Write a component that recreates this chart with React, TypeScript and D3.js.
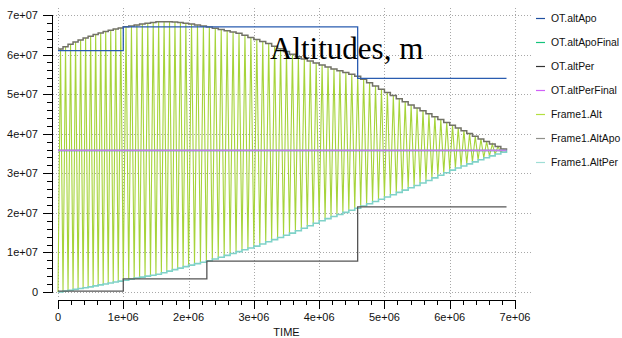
import { useEffect, useRef } from "react"
import * as d3 from "d3"

// axis ticks
const timeTicks = [0, 1e6, 2e6, 3e6, 4e6, 5e6, 6e6, 7e6]
const altTicks = [0, 1e7, 2e7, 3e7, 4e7, 5e7, 6e7, 7e7]

// Frame1.AltApo envelope
const apoTime = [0, 0.23e6, 0.38e6, 0.54e6, 0.75e6, 1.0e6, 1.36e6, 1.56e6, 1.76e6, 1.98e6, 2.17e6, 2.37e6, 2.59e6, 2.79e6, 2.99e6, 3.2e6, 3.7e6, 4.2e6, 4.6e6, 5.0e6, 5.5e6, 6.0e6, 6.5e6, 6.87e6]
const apoValue = [6.11e7, 6.29e7, 6.39e7, 6.49e7, 6.59e7, 6.69e7, 6.79e7, 6.83e7, 6.83e7, 6.79e7, 6.74e7, 6.68e7, 6.6e7, 6.53e7, 6.41e7, 6.3e7, 5.93e7, 5.65e7, 5.45e7, 5.08e7, 4.65e7, 4.25e7, 3.85e7, 3.58e7]

// Frame1.AltPer envelope
const perTime = [0, 0.46e6, 1.0e6, 1.5e6, 2.0e6, 2.3e6, 3.0e6, 3.55e6, 4.0e6, 4.6e6, 5.0e6, 5.5e6, 6.0e6, 6.5e6, 6.87e6]
const perValue = [0, 1.3e6, 3.0e6, 4.5e6, 6.8e6, 8.0e6, 1.16e7, 1.49e7, 1.8e7, 2.15e7, 2.4e7, 2.72e7, 3.08e7, 3.38e7, 3.58e7]

// orbits counted in each 1e6 s of TIME (last bin ends at 6.87e6)
const orbitsPerMillion = [13, 12, 11, 11, 11, 11, 10]
const endTime = 6.87e6

// OT targets (step series)
const otApoTime = [0, 1.0e6, 4.59e6, 6.87e6]
const otApoValue = [6.1e7, 6.7e7, 5.4e7, 5.4e7]
const otPerTime = [0, 1.0e6, 2.28e6, 4.59e6, 6.87e6]
const otPerValue = [2e5, 3.3e6, 7.8e6, 2.15e7, 2.15e7]
const finalTime = [0, 6.87e6]
const apoFinalValue = [3.5786e7, 3.5786e7]
const perFinalValue = [3.5786e7, 3.5786e7]

const legendNames = ["OT.altApo", "OT.altApoFinal", "OT.altPer", "OT.altPerFinal", "Frame1.Alt", "Frame1.AltApo", "Frame1.AltPer"]
const legendColors = ["#1f4fa0", "#14c47c", "#333333", "#d060f8", "#b4e040", "#90908a", "#9fded6"]

export default function App() {
  const svgRef = useRef<SVGSVGElement>(null)

  useEffect(() => {
    if (!svgRef.current) return
    document.body.style.margin = "0"
    const svg = d3.select(svgRef.current)
    svg.selectAll("*").remove()

    const x = d3.scaleLinear().domain([0, 7e6]).range([58, 515])
    const y = d3.scaleLinear().domain([0, 7e7]).range([292, 15])
    const apoAt = d3.scaleLinear<number>().domain(apoTime).range(apoValue)
    const perAt = d3.scaleLinear<number>().domain(perTime).range(perValue)

    // perigee pass times
    const perigees: number[] = []
    orbitsPerMillion.forEach((n, i) => {
      const start = i * 1e6
      const len = Math.min(1e6, endTime - start)
      for (let k = 0; k < n; k++) perigees.push(start + (k * len) / n)
    })
    perigees.push(endTime)

    const altPts: [number, number][] = []
    const apoPts: [number, number][] = []
    const perPts: [number, number][] = []
    for (let i = 0; i < perigees.length - 1; i++) {
      const t0 = perigees[i]
      const mid = (t0 + perigees[i + 1]) / 2
      altPts.push([t0, perAt(t0)])
      altPts.push([mid, apoAt(mid)])
      apoPts.push([t0, apoAt(mid)])
      perPts.push([t0, perAt(t0)])
    }
    altPts.push([endTime, perAt(endTime)])
    apoPts.push([endTime, apoAt(endTime)])
    perPts.push([endTime, perAt(endTime)])

    const font = "Liberation Sans, Arial, sans-serif"

    // grid
    const grid = svg.append("g").attr("stroke", "#a8a8a8").attr("stroke-dasharray", "1,2").attr("stroke-width", 1)
    altTicks.forEach((v) => {
      grid.append("line").attr("x1", 53).attr("x2", 531).attr("y1", Math.round(y(v)) + 0.5).attr("y2", Math.round(y(v)) + 0.5)
    })
    timeTicks.forEach((v) => {
      grid.append("line").attr("y1", 8).attr("y2", 297).attr("x1", Math.round(x(v)) + 0.5).attr("x2", Math.round(x(v)) + 0.5)
    })

    const line = d3
      .line<[number, number]>()
      .x((d) => x(d[0]))
      .y((d) => y(d[1]))
    const step = d3
      .line<[number, number]>()
      .x((d) => x(d[0]))
      .y((d) => y(d[1]))
      .curve(d3.curveStepAfter)

    const plot = svg.append("g").attr("fill", "none")
    plot.append("path").attr("d", line(altPts)).attr("stroke", "#a6d43a").attr("stroke-width", 1.1)
    plot.append("path").attr("d", step(apoPts)).attr("stroke", "#727266").attr("stroke-width", 1.5)
    plot.append("path").attr("d", step(perPts)).attr("stroke", "#7fd2c8").attr("stroke-width", 1.6)

    const zip = (ts: number[], vs: number[]) => ts.map((t, i) => [t, vs[i]] as [number, number])
    plot.append("path").attr("d", step(zip(otApoTime, otApoValue))).attr("stroke", "#2a5cb0").attr("stroke-width", 1.3)
    plot.append("path").attr("d", step(zip(otPerTime, otPerValue))).attr("stroke", "#555555").attr("stroke-width", 1.3)
    plot.append("path").attr("d", line(zip(finalTime, apoFinalValue))).attr("stroke", "#14c47c").attr("stroke-width", 1.5)
    plot.append("path").attr("d", line(zip(finalTime, perFinalValue))).attr("stroke", "#c47ee8").attr("stroke-width", 1.6)

    // y axis
    const ya = svg.append("g").attr("stroke", "#000")
    ya.append("line").attr("x1", 52.5).attr("x2", 52.5).attr("y1", y(7e7)).attr("y2", y(0) + 1)
    d3.range(0, 7e7 + 1, 2e6).forEach((v) => {
      const major = v % 1e7 === 0
      const yy = Math.round(y(v)) + 0.5
      ya.append("line").attr("x1", major ? 43 : 47).attr("x2", 52).attr("y1", yy).attr("y2", yy)
    })
    altTicks.forEach((v) => {
      svg
        .append("text")
        .attr("x", 38)
        .attr("y", y(v))
        .attr("dy", "0.36em")
        .attr("text-anchor", "end")
        .attr("font-family", font)
        .attr("font-size", 11)
        .attr("fill", "#111")
        .text(v === 0 ? "0" : d3.format(".0e")(v).replace("e+7", "e+07"))
    })

    // x axis
    const xa = svg.append("g").attr("stroke", "#000")
    xa.append("line").attr("x1", x(0)).attr("x2", x(7e6) + 1).attr("y1", 300.5).attr("y2", 300.5)
    d3.range(0, 7e6 + 1, 2e5).forEach((v) => {
      const major = Math.abs(v % 1e6) < 1 || Math.abs((v % 1e6) - 1e6) < 1
      const xx = Math.round(x(v)) + 0.5
      xa.append("line").attr("x1", xx).attr("x2", xx).attr("y1", 300).attr("y2", major ? 309 : 305)
    })
    timeTicks.forEach((v) => {
      svg
        .append("text")
        .attr("x", x(v))
        .attr("y", 317)
        .attr("dy", "0.36em")
        .attr("text-anchor", "middle")
        .attr("font-family", font)
        .attr("font-size", 11)
        .attr("fill", "#111")
        .text(v === 0 ? "0" : d3.format(".0e")(v).replace("e+6", "e+06"))
    })
    svg
      .append("text")
      .attr("x", (x(0) + x(7e6)) / 2)
      .attr("y", 332)
      .attr("dy", "0.36em")
      .attr("text-anchor", "middle")
      .attr("font-family", font)
      .attr("font-size", 11)
      .attr("fill", "#111")
      .text("TIME")

    // title marker
    svg
      .append("text")
      .attr("x", 270)
      .attr("y", 59)
      .attr("font-family", "Liberation Serif, Times New Roman, serif")
      .attr("font-size", 31)
      .attr("fill", "#000")
      .text("Altitudes, m")

    // legend
    const legend = svg.append("g")
    legendNames.forEach((name, i) => {
      const ly = 18 + i * 24
      legend.append("line").attr("x1", 536).attr("x2", 545).attr("y1", ly + 0.5).attr("y2", ly + 0.5).attr("stroke", legendColors[i]).attr("stroke-width", 1.2)
      legend
        .append("text")
        .attr("x", 551)
        .attr("y", ly)
        .attr("dy", "0.36em")
        .attr("font-family", font)
        .attr("font-size", 10.4)
        .attr("fill", "#111")
        .text(name)
    })
  }, [])

  return (
    <div style={{ position: "absolute", left: 0, top: 0 }}>
      <svg ref={svgRef} width={622} height={338} style={{ display: "block", background: "#fff" }} />
    </div>
  )
}
